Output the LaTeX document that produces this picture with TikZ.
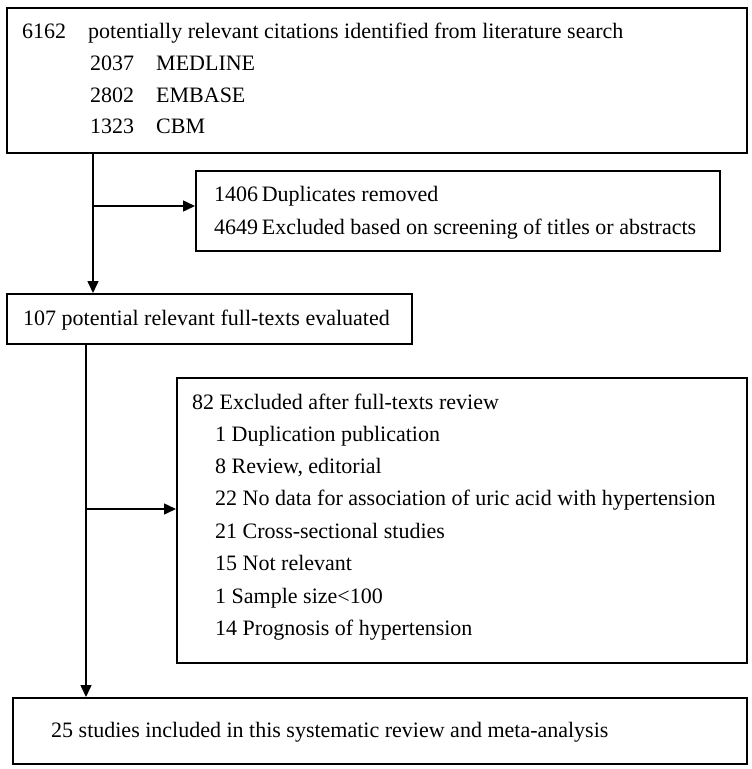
\documentclass[tikz,border=0pt]{standalone}
\usepackage{fontspec}
\setmainfont{Liberation Serif}
\usetikzlibrary{arrows.meta,calc}
\begin{document}
\begin{tikzpicture}[x=1pt,y=-1pt,
  box/.style={draw=black,line width=1.7pt,rectangle,inner sep=0pt,anchor=north west},
  txt/.style={anchor=base west,inner sep=0pt,font=\fontsize{22}{26}\selectfont},
  arr/.style={line width=1.5pt,-{Triangle[length=12pt,width=11pt]}}]
\useasboundingbox[fill=white] (0,0) rectangle (752,769);
% boxes
\node[box,minimum width=740pt,minimum height=145pt] (b1) at (6,7) {};
\node[box,minimum width=524pt,minimum height=80pt] (b2) at (195,170) {};
\node[box,minimum width=405pt,minimum height=50pt] (b3) at (6,293) {};
\node[box,minimum width=570pt,minimum height=285pt] (b4) at (176,377) {};
\node[box,minimum width=734pt,minimum height=66pt] (b5) at (12,697) {};
% box 1 text
\node[txt] (t1a) at (22,38) {6162};
\node[txt] (t1b) at (88,38) {potentially relevant citations identified from literature search};
\node[txt] (t2a) at (90,70) {2037};
\node[txt] (t2b) at (156,70) {MEDLINE};
\node[txt] (t3a) at (90,102) {2802};
\node[txt] (t3b) at (156,102) {EMBASE};
\node[txt] (t4a) at (90,133) {1323};
\node[txt] (t4b) at (156,133) {CBM};
% box 2 text
\node[txt] (u1) at (214,201) {1406\,Duplicates removed};
\node[txt] (u2) at (214,234) {4649\,Excluded based on screening of titles or abstracts};
% box 3 text
\node[txt] (v1) at (23,325) {107 potential relevant full-texts evaluated};
% box 4 text
\node[txt] (w0) at (192,409) {82 Excluded after full-texts review};
\node[txt] (w1) at (215,441) {1 Duplication publication};
\node[txt] (w2) at (215,473) {8 Review, editorial};
\node[txt] (w3) at (215,505) {22 No data for association of uric acid with hypertension};
\node[txt] (w4) at (215,538) {21 Cross-sectional studies};
\node[txt] (w5) at (215,570) {15 Not relevant};
\node[txt] (w6) at (215,603) {1 Sample size<100};
\node[txt] (w7) at (215,635) {14 Prognosis of hypertension};
% box 5 text
\node[txt] (z1) at (51,737) {25 studies included in this systematic review and meta-analysis};
% connectors
\coordinate (j1) at (93,206);
\coordinate (j2) at (86,509);
\draw[arr] (b1.south -| j1) -- (b3.north -| j1);
\draw[arr] (j1) -- (b2.west |- j1);
\draw[arr] (b3.south -| j2) -- (b5.north -| j2);
\draw[arr] (j2) -- (b4.west |- j2);
\end{tikzpicture}
\end{document}
